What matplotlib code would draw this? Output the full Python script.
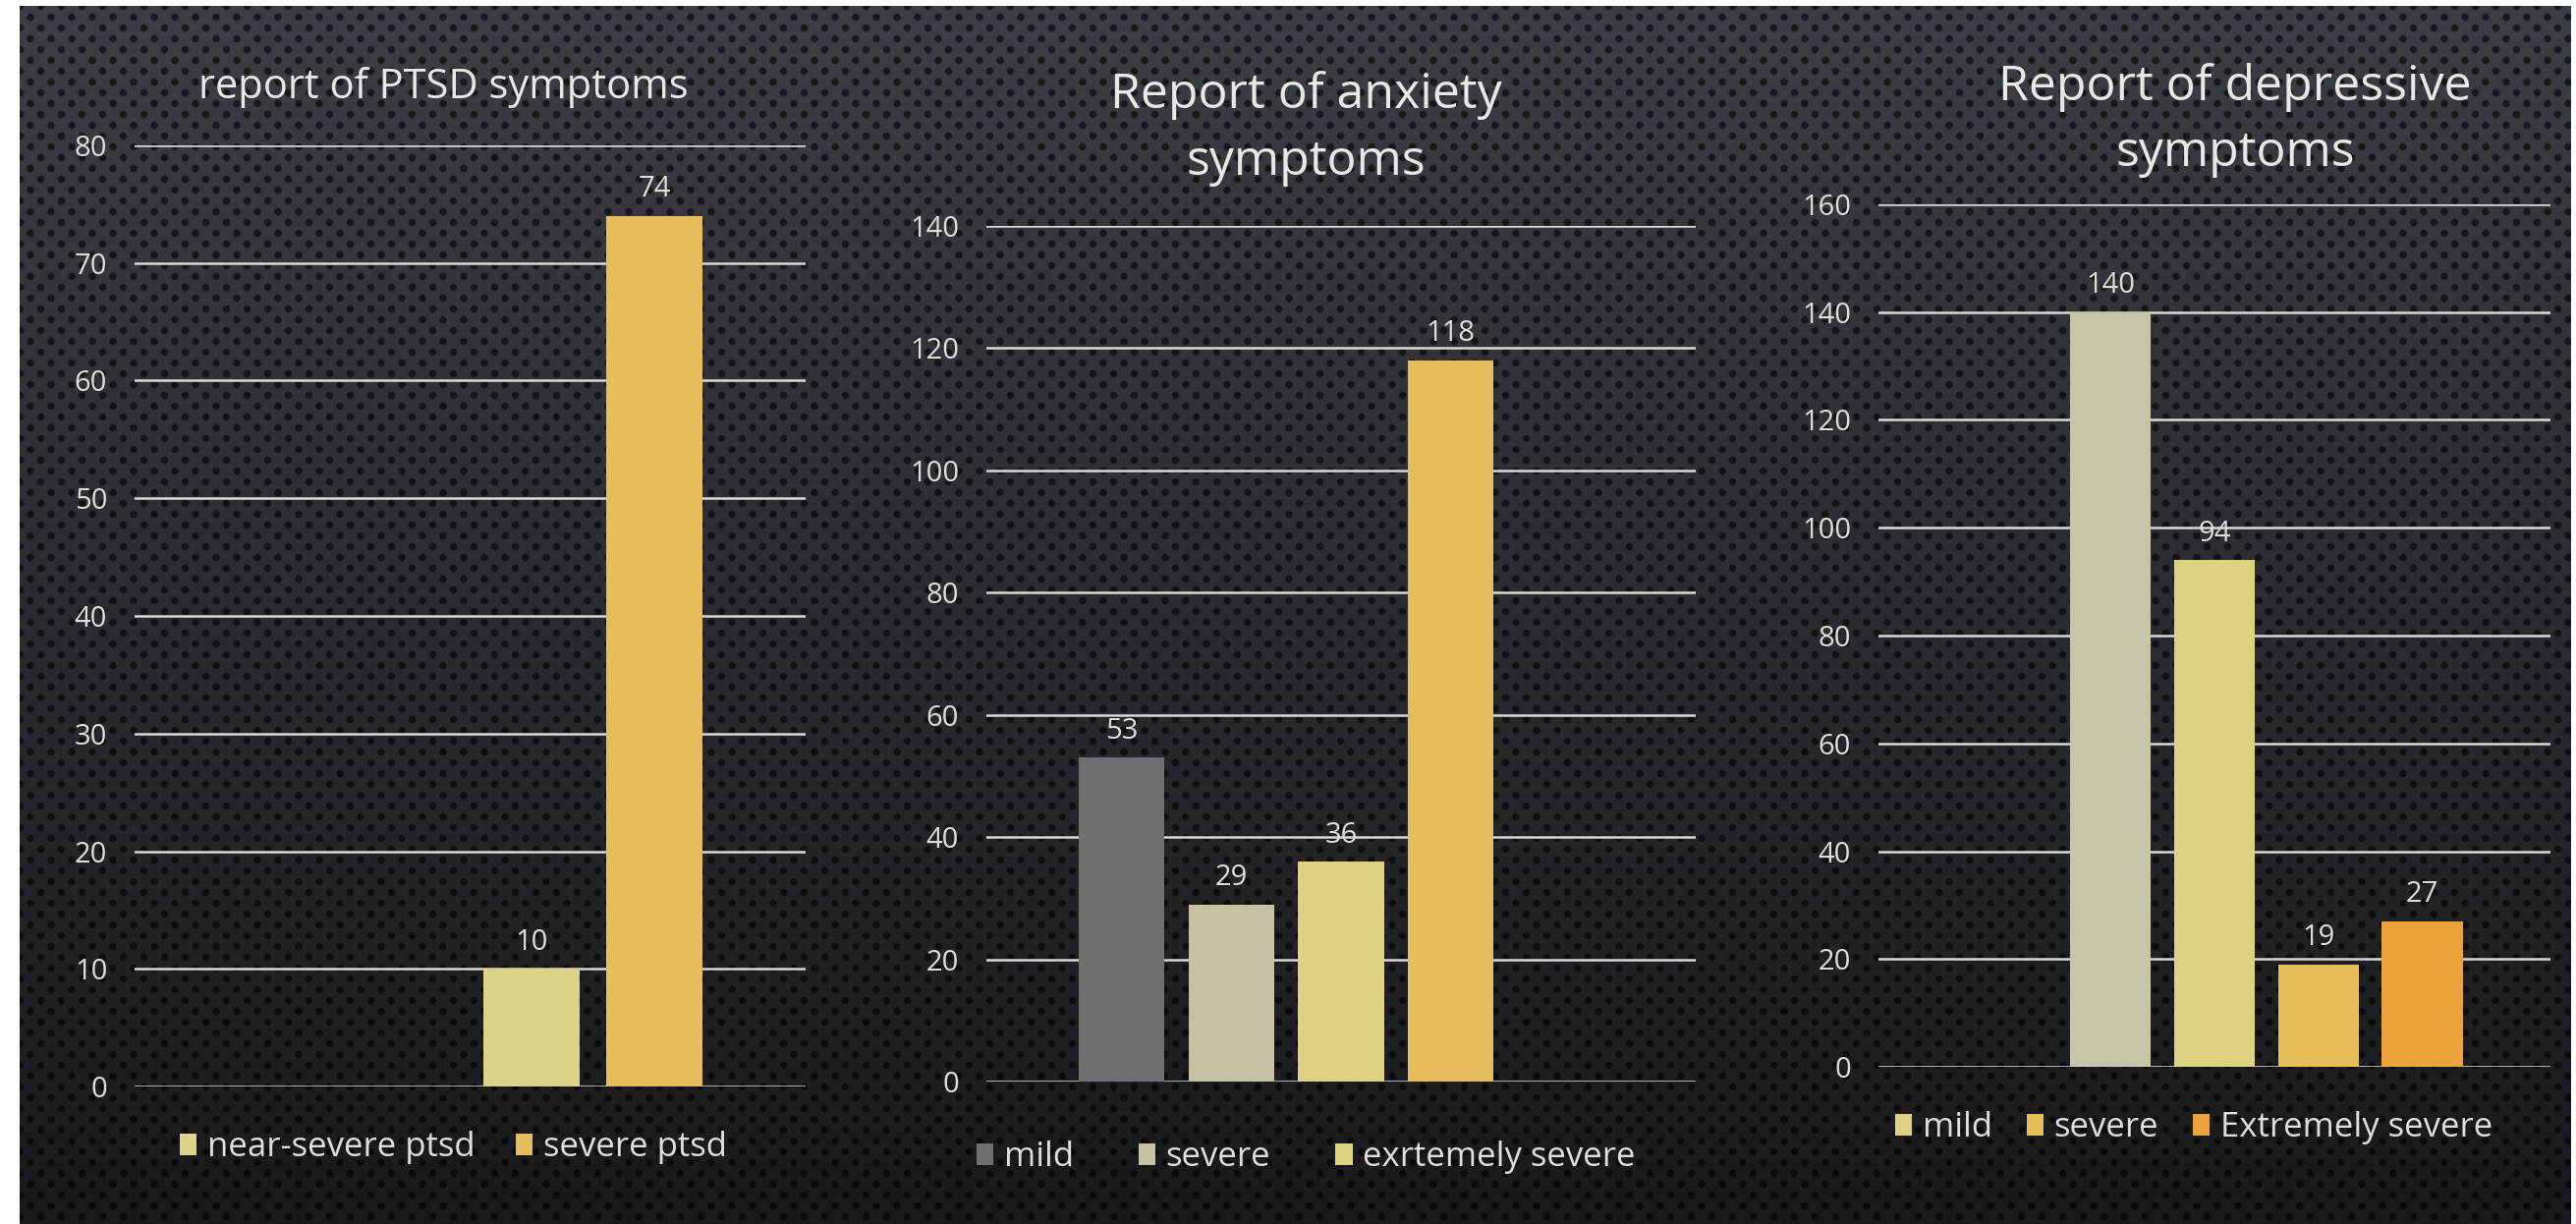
import numpy as np
import matplotlib.pyplot as plt

plt.rcParams['font.family'] = ['Open Sans', 'DejaVu Sans']

# series slots per chart; None marks an empty slot in the cluster
ptsd_labels = [None, None, "near-severe ptsd", "severe ptsd"]
ptsd_values = [None, None, 10, 74]
ptsd_colors = [None, None, "#dcd388", "#e6bd5a"]
ptsd_ticks = [0, 10, 20, 30, 40, 50, 60, 70, 80]

anx_labels = ["mild", "severe", "exrtemely severe", None, None]
anx_values = [53, 29, 36, 118, None]
anx_colors = ["#6f6f6f", "#c4c2a2", "#ddd27f", "#e6bd5a", None]
anx_ticks = [0, 20, 40, 60, 80, 100, 120, 140]

dep_labels = [None, None, "mild", "severe", "Extremely severe"]
dep_values = [None, 140, 94, 19, 27]
dep_colors = [None, "#c6c5a5", "#ddd27f", "#e6bd57", "#eba33b"]
dep_ticks = [0, 20, 40, 60, 80, 100, 120, 140, 160]

W, H = 2622, 1246
TEXT = "#dedede"

fig = plt.figure(figsize=(W / 100, H / 100), dpi=100, facecolor="white")


def px(x, y):
    # pixel position -> figure fraction
    return x / W, 1 - y / H


# perforated dark background
bg_w, bg_h = 2597, 1240
yy, xx = np.mgrid[0:bg_h, 0:bg_w].astype(float)
t = (yy / (bg_h - 1))[..., None]
top = np.array([60, 62, 69]) / 255
bottom = np.array([24, 25, 28]) / 255
base = top * (1 - t) + bottom * t
row_gap, col_gap = 11.0, 21.0
j = np.round(yy / row_gap)
dy = yy - j * row_gap
off = (j % 2) * col_gap / 2
dx = (xx - off + col_gap / 2) % col_gap - col_gap / 2
d = np.hypot(dx, dy)
dots = np.clip((4.6 - d) / 1.8, 0, 1)
img = base * (1 - 0.6 * dots[..., None])

bg = fig.add_axes([20 / W, 0, bg_w / W, bg_h / H])
bg.imshow(img, aspect="auto", interpolation="nearest")
bg.axis("off")


def draw_panel(rect, labels, values, colors, ticks):
    ax = fig.add_axes(rect)
    ax.set_facecolor("none")
    n = len(values)
    for i, (lab, val, col) in enumerate(zip(labels, values, colors)):
        if val is None:
            continue
        bars = ax.bar(i, val, width=0.78, color=col, zorder=3,
                      label=lab if lab else "_nolegend_")
        ax.bar_label(bars, padding=9, color=TEXT, fontsize=21)
    ax.set_xlim(-0.5 - 0.73, n - 0.5 + 0.73)
    ax.set_ylim(0, ticks[-1])
    ax.set_yticks(ticks)
    ax.set_xticks([])
    ax.yaxis.grid(True, color="#d9d9d9", lw=1.8)
    ax.set_axisbelow(True)
    for s in ax.spines.values():
        s.set_visible(False)
    ax.tick_params(axis="y", length=0, pad=20, labelsize=21, labelcolor=TEXT)
    return ax


ax1 = draw_panel([137 / W, 140 / H, 683 / W, 958 / H],
                 ptsd_labels, ptsd_values, ptsd_colors, ptsd_ticks)
ax2 = draw_panel([1004 / W, 145 / H, 722 / W, 871 / H],
                 anx_labels, anx_values, anx_colors, anx_ticks)
ax3 = draw_panel([1912 / W, 160 / H, 684 / W, 878 / H],
                 dep_labels, dep_values, dep_colors, dep_ticks)


def title(lines, x, y0, pitch, size):
    for k, line in enumerate(lines):
        fig.text(*px(x, y0 + k * pitch), line, ha="center", va="baseline",
                 color="#e8e8e8", fontsize=size)


title(["report of PTSD symptoms"], 451, 100, 0, 30)
title(["Report of anxiety", "symptoms"], 1329, 110, 68, 36)
title(["Report of depressive", "symptoms"], 2275, 102, 67, 36)


def legend(ax, x, y, spacing):
    ax.legend(loc="center left", bbox_to_anchor=px(x, y),
              bbox_transform=fig.transFigure, frameon=False,
              ncol=3, fontsize=25, labelcolor=TEXT,
              handlelength=0.5, handleheight=0.6, handletextpad=0.3,
              columnspacing=spacing, borderpad=0, borderaxespad=0)


legend(ax1, 183, 1168, 1.2)
legend(ax2, 994, 1178, 1.9)
legend(ax3, 1929, 1148, 1.0)

fig.savefig("out.png", dpi=100)
